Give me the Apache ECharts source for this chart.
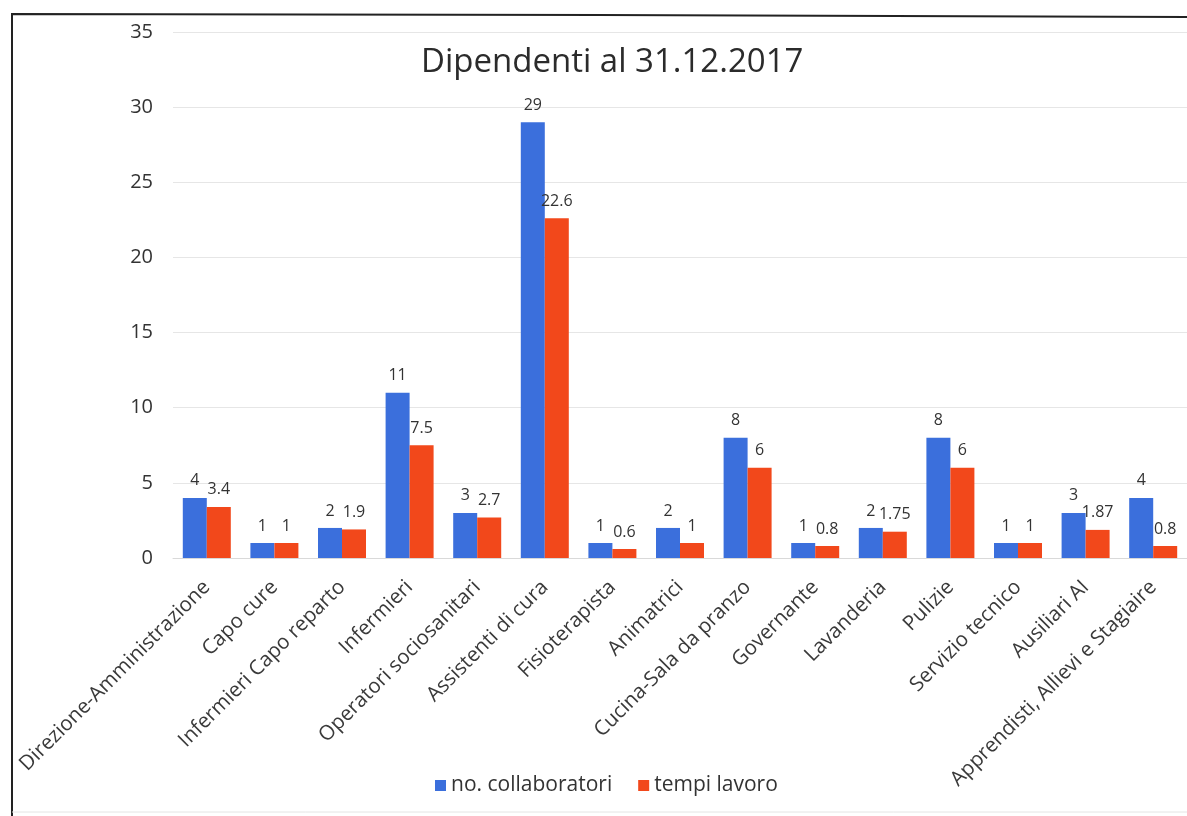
<!DOCTYPE html>
<html>
<head>
<meta charset="utf-8">
<script src="https://cdn.jsdelivr.net/npm/echarts@6/dist/echarts.min.js"></script>
<style>
  html, body { margin: 0; padding: 0; background: #fff; }
  #chart { width: 1187px; height: 816px; }
</style>
</head>
<body>
<div id="chart"></div>
<script>
  // categorie e valori
  var categorie = ['Direzione-Amministrazione', 'Capo cure', 'Infermieri Capo reparto', 'Infermieri',
    'Operatori sociosanitari', 'Assistenti di cura', 'Fisioterapista', 'Animatrici',
    'Cucina-Sala da pranzo', 'Governante', 'Lavanderia', 'Pulizie', 'Servizio tecnico',
    'Ausiliari AI', 'Apprendisti, Allievi e Stagiaire']
  var collaboratori = [4, 1, 2, 11, 3, 29, 1, 2, 8, 1, 2, 8, 1, 3, 4]
  var tempiLavoro = [3.4, 1, 1.9, 7.5, 2.7, 22.6, 0.6, 1, 6, 0.8, 1.75, 6, 1, 1.87, 0.8]
  var serieNomi = ['no. collaboratori', 'tempi lavoro']
  var yTicks = { min: 0, max: 35, interval: 5 }

  var font = 'Open Sans'
  var myChart = echarts.init(document.getElementById('chart'))
  var labelStyle = {
    show: true,
    position: 'top',
    distance: 9,
    color: '#333',
    fontFamily: font,
    fontSize: 16
  }
  var option = {
    animation: false,
    textStyle: { fontFamily: font },
    title: {
      text: 'Dipendenti al 31.12.2017',
      left: 416,
      top: 41,
      textStyle: {
        fontFamily: font,
        fontSize: 33,
        fontWeight: 'normal',
        color: '#2b2b2b'
      }
    },
    legend: {
      left: 430,
      top: 770,
      itemWidth: 11,
      itemHeight: 11,
      itemGap: 26,
      icon: 'rect',
      textStyle: { fontFamily: font, fontSize: 21, color: '#333' },
      data: serieNomi
    },
    grid: {
      left: 173,
      top: 32,
      width: 1021,
      bottom: 258,
      containLabel: false
    },
    xAxis: {
      type: 'category',
      data: categorie,
      axisTick: { show: false },
      axisLine: { lineStyle: { color: '#d9d9d9' } },
      axisLabel: {
        interval: 0,
        rotate: 45,
        margin: 26,
        color: '#3a3a3a',
        fontFamily: font,
        fontSize: 20.5
      }
    },
    yAxis: {
      type: 'value',
      min: yTicks.min,
      max: yTicks.max,
      interval: yTicks.interval,
      axisLine: { show: false },
      axisTick: { show: false },
      splitLine: { lineStyle: { color: '#e6e6e6' } },
      axisLabel: {
        margin: 20,
        color: '#333',
        fontFamily: font,
        fontSize: 20
      }
    },
    series: [
      {
        name: serieNomi[0],
        type: 'bar',
        barWidth: 24,
        barGap: '0%',
        itemStyle: { color: '#3b6fdc' },
        label: labelStyle,
        data: collaboratori
      },
      {
        name: serieNomi[1],
        type: 'bar',
        barWidth: 24,
        barGap: '0%',
        itemStyle: { color: '#f2481b' },
        label: labelStyle,
        data: tempiLavoro
      }
    ],
    graphic: [
      {
        type: 'polyline',
        shape: { points: [[12, 816], [12, 14], [600, 15], [1187, 17]] },
        style: { stroke: '#222', lineWidth: 2, fill: null }
      },
      {
        type: 'line',
        shape: { x1: 12, y1: 812, x2: 1187, y2: 812 },
        style: { stroke: '#e4e4e4', lineWidth: 1 }
      }
    ]
  }
  myChart.setOption(option)
</script>
</body>
</html>
